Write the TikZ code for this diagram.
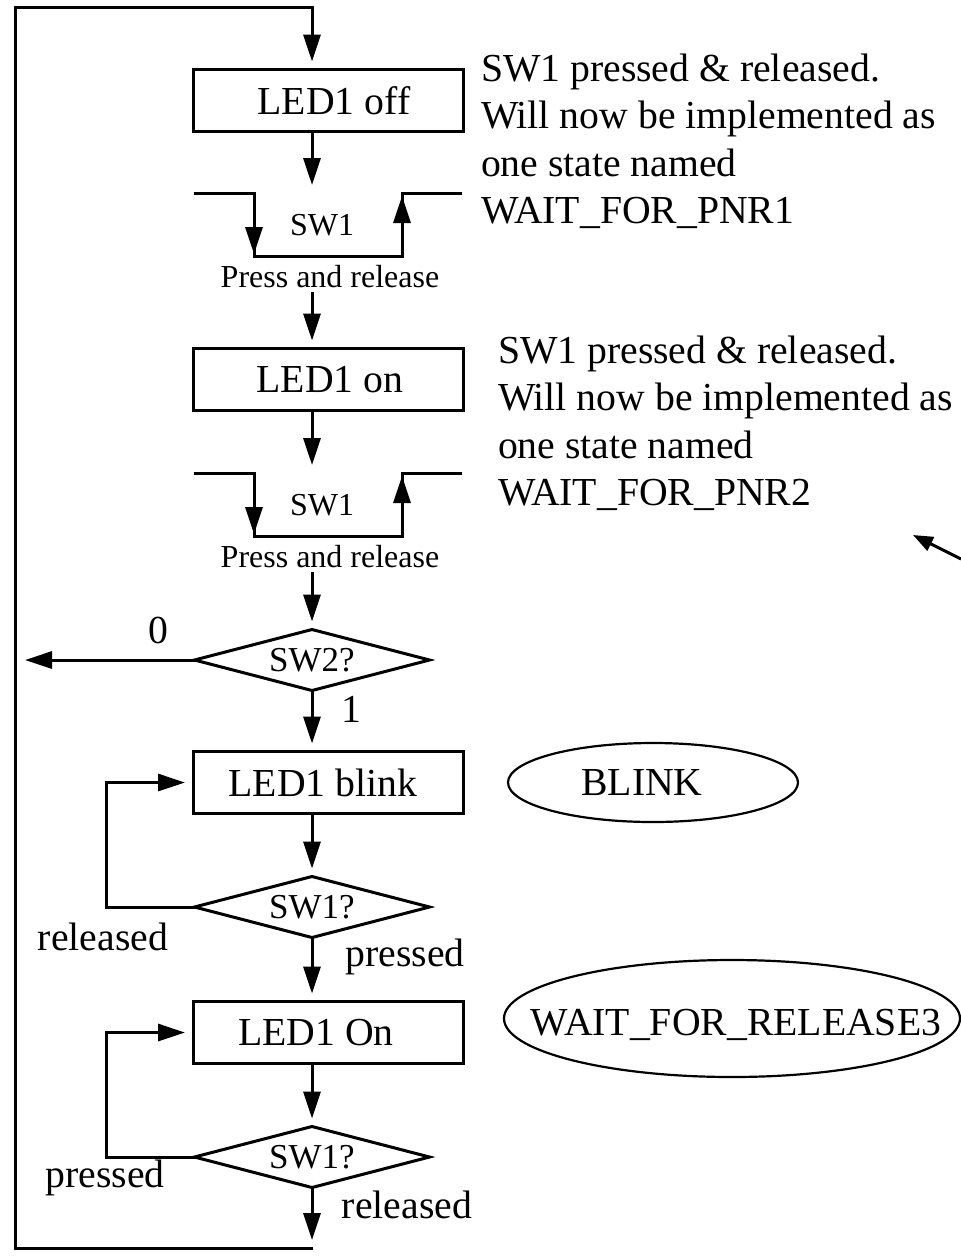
\documentclass[tikz,border=0pt]{standalone}
\usepackage{fontspec}
\setmainfont{Liberation Serif}
\usetikzlibrary{arrows.meta,shapes.geometric}
\begin{document}
\begin{tikzpicture}[x=1pt,y=-1pt,
  every node/.style={inner sep=0pt,outer sep=0pt},
  ln/.style={line width=3pt},
  arr/.style={line width=3pt,-{Triangle[length=27pt,width=17pt]}},
  big/.style={font=\fontsize{39.7}{47}\selectfont},
  mid/.style={font=\fontsize{35}{42}\selectfont},
  sml/.style={font=\fontsize{32}{38}\selectfont},
  stbox/.style={draw,line width=3pt,minimum width=270pt,minimum height=62pt,big},
  dec/.style={draw,diamond,aspect=3.85,line width=3pt,minimum width=235pt,minimum height=61pt,mid},
  oval/.style={draw,ellipse,line width=2.2pt},
  lbl/.style={anchor=base,big},
  side/.style={anchor=base west,big},
]
\useasboundingbox (0,0) rectangle (961,1259);

% state boxes
\node[stbox] (off) at (328,100.5) {\hspace*{12pt}LED1 off};
\node[stbox] (on) at (328,379.5) {\hspace*{4pt}LED1 on};
\node[stbox] (blink) at (328,782.5) {LED1 blink\hspace*{10pt}};
\node[stbox] (on2) at (328,1032.5) {LED1 On\hspace*{24pt}};

% column coordinate
\coordinate (col) at (312,0);

% SW1 press-and-release symbol 1
\coordinate (p1a) at (194,193);
\coordinate (p1b) at (254,256);
\coordinate (p1c) at (402,193);
\coordinate (p1d) at (462,193);
\draw[ln] (p1a) -| (p1b) -| (p1c) -- (p1d);
\coordinate (h1a) at (254,222);
\coordinate (h1b) at (254,254);
\coordinate (h1c) at (402,228);
\coordinate (h1d) at (402,196);
\draw[arr] (h1a) -- (h1b);
\draw[arr] (h1c) -- (h1d);
\node[sml,anchor=base] (sw1a) at (322,235) {SW1};
\node[sml,anchor=base] (pr1) at (330,287) {Press and release};

% SW1 press-and-release symbol 2
\coordinate (p2a) at (194,473);
\coordinate (p2b) at (254,536);
\coordinate (p2c) at (402,473);
\coordinate (p2d) at (462,473);
\draw[ln] (p2a) -| (p2b) -| (p2c) -- (p2d);
\coordinate (h2a) at (254,502);
\coordinate (h2b) at (254,534);
\coordinate (h2c) at (402,508);
\coordinate (h2d) at (402,476);
\draw[arr] (h2a) -- (h2b);
\draw[arr] (h2c) -- (h2d);
\node[sml,anchor=base] (sw1b) at (322,515) {SW1};
\node[sml,anchor=base] (pr2) at (330,567) {Press and release};

% decisions
\node[dec] (d0) at (312,660) {SW2?};
\node[dec] (d1) at (312,907) {SW1?};
\node[dec] (d2) at (312,1157) {SW1?};

% main flow
\draw[arr,shorten >=8pt] (off.south -| col) -- (p1a -| col);
\draw[arr,shorten <=5pt,shorten >=8pt] (pr1.south -| col) -- (on.north -| col);
\draw[arr,shorten >=8pt] (on.south -| col) -- (p2a -| col);
\draw[arr,shorten <=5pt,shorten >=8pt] (pr2.south -| col) -- (d0.north);
\draw[arr,shorten >=8pt] (d0.south) -- (blink.north -| col);
\draw[arr,shorten >=8pt] (blink.south -| col) -- (d1.north);
\draw[arr,shorten >=8pt] (d1.south) -- (on2.north -| col);
\draw[arr,shorten >=8pt] (on2.south -| col) -- (d2.north);
\coordinate (endp) at (312,1240);
\draw[arr] (d2.south) -- (endp);

% SW2 = 0 exit
\coordinate (exit0) at (25,660);
\draw[arr] (d0.west) -- (exit0);
\node[lbl] (l0) at (158,643) {0};
\node[lbl] (l1) at (351,722) {1};

% loops
\coordinate (lp1) at (106,782.5);
\draw[arr,shorten >=8pt] (d1.west) -| (lp1) -- (blink.west);
\coordinate (lp2) at (106,1032.5);
\draw[arr,shorten >=8pt] (d2.west) -| (lp2) -- (on2.west);
\node[lbl] (rel1) at (103,950) {released};
\node[lbl] (prs1) at (405,966) {pressed};
\node[lbl] (prs2) at (105,1187) {pressed};
\node[lbl] (rel2) at (407,1218) {released};

% return line
\coordinate (c1) at (313,1248);
\coordinate (c2) at (15,1248);
\coordinate (c3) at (15,7);
\coordinate (c4) at (312,7);
\draw[arr,shorten >=8pt] (c1) -- (c2) -- (c3) -- (c4) -- (off.north -| c4);

% side notes
\node[side] (n1a) at (481,81) {SW1 pressed \& released.};
\node[side] (n1b) at (481,128.5) {Will now be implemented as};
\node[side] (n1c) at (481,176) {one state named};
\node[side] (n1d) at (481,223.5) {WAIT\_FOR\_PNR1};
\node[side] (n2a) at (498,363) {SW1 pressed \& released.};
\node[side] (n2b) at (498,410.5) {Will now be implemented as};
\node[side] (n2c) at (498,458) {one state named};
\node[side] (n2d) at (498,505.5) {WAIT\_FOR\_PNR2};

% free arrow at right
\coordinate (ra) at (961,559);
\coordinate (rb) at (913,535);
\draw[line width=3pt,-{Triangle[length=20pt,width=15pt]}] (ra) -- (rb);

% state name ovals
\node[oval,minimum width=290pt,minimum height=79pt] (e1) at (653,782.5) {};
\node[lbl] (e1t) at (642,795) {BLINK};
\node[oval,minimum width=456pt,minimum height=117pt] (e2) at (732,1018.5) {};
\node[lbl] (e2t) at (736,1035) {WAIT\_FOR\_RELEASE3};
\end{tikzpicture}
\end{document}
